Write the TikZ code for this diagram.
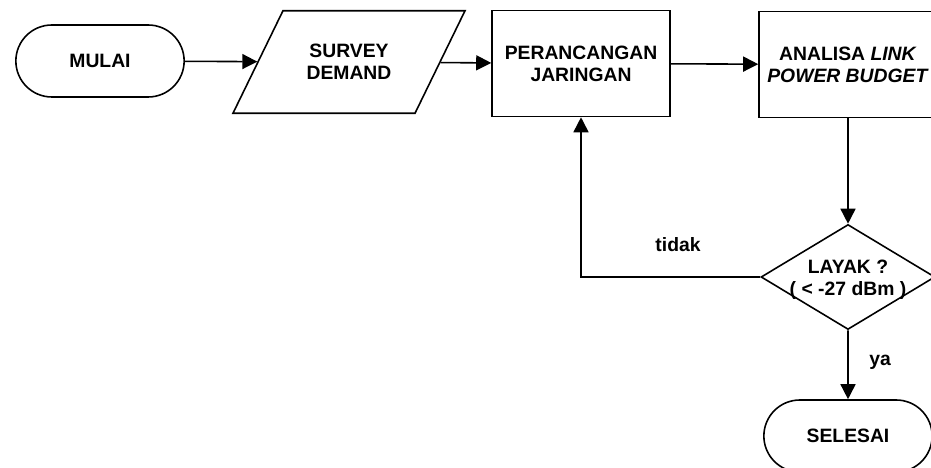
\documentclass[tikz,border=0pt]{standalone}
\usepackage{fontspec}
\setmainfont{Liberation Sans}
\usepackage{tikz}
\usetikzlibrary{calc,positioning,shapes,shapes.geometric,shapes.misc,arrows.meta}

\begin{document}
\begin{tikzpicture}
\tikzstyle{every node}=[font=\fontsize{11}{12.5}\selectfont\bfseries, align=center]
\tikzstyle{terminal}=[rounded rectangle, draw, line width=0.9pt,
                      minimum width=3.6cm, minimum height=1.44cm]
\tikzstyle{proses}=[rectangle, draw, line width=0.9pt,
                    minimum width=3.56cm, minimum height=2.12cm]
\tikzstyle{masukan}=[trapezium, trapezium left angle=64, trapezium right angle=116,
                     trapezium stretches body, draw, line width=0.9pt,
                     minimum width=4.64cm, inner xsep=0pt, inner ysep=0.67cm]
\tikzstyle{keputusan}=[diamond, draw, line width=0.9pt,
                       minimum width=3.48cm, minimum height=2.1cm, inner sep=0pt]
\tikzstyle{panah}=[-{Triangle[length=3mm,width=3mm]}, line width=0.9pt]
\useasboundingbox (0,0) rectangle (18.62,9.36);
\node[terminal] (mulai) at (2.0,8.14) {MULAI};
\node[masukan] (survey) at (6.98,8.12) {SURVEY\\DEMAND};
\node[proses] (rancang) at (11.62,8.09) {PERANCANGAN\\JARINGAN};
\node[proses] (analisa) at (16.96,8.07) {ANALISA \textit{LINK}\\\textit{POWER BUDGET}};
\node[keputusan] (cek) at (16.96,3.82) {};
\node (cektxt) at (16.96,3.76) {LAYAK ?\\( < -27 dBm )};
\node[terminal] (selesai) at (16.96,0.64) {SELESAI};
\node (tidak) at (13.56,4.46) {tidak};
\node (ya) at (17.6,2.12) {ya};
\draw[panah] (mulai) -- (survey);
\draw[panah] (survey) -- (rancang);
\draw[panah] (rancang) -- (analisa);
\draw[panah] (analisa) -- (cek);
\draw[panah] (cek) -- (selesai);
\draw[panah] (cek.west) -| (rancang.south);
\end{tikzpicture}
\end{document}
